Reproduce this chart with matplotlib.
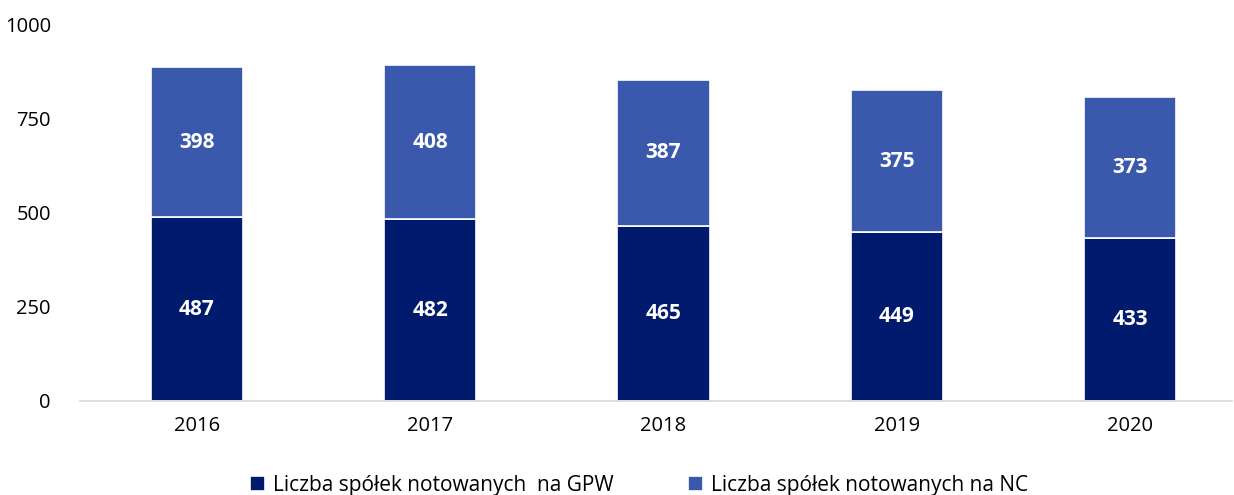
import matplotlib.pyplot as plt
import numpy as np

years = ['2016', '2017', '2018', '2019', '2020']
gpw = [487, 482, 465, 449, 433]
nc = [398, 408, 387, 375, 373]
labels = ['Liczba spółek notowanych  na GPW', 'Liczba spółek notowanych na NC']

c_gpw = '#001A6E'
c_nc = '#3A58AC'

plt.rcParams['font.family'] = ['Open Sans', 'DejaVu Sans']

fig = plt.figure(figsize=(12.34, 4.95), dpi=100)
ax = fig.add_axes([80/1234, 1-401/495, (1232-80)/1234, (401-24)/495])

x = np.arange(len(years))
w = 0.395
b1 = ax.bar(x, gpw, w, color=c_gpw, edgecolor='white', linewidth=1.2, label=labels[0])
b2 = ax.bar(x, nc, w, bottom=gpw, color=c_nc, edgecolor='white', linewidth=1.2, label=labels[1])

for i in range(len(years)):
    ax.text(x[i], gpw[i]/2, str(gpw[i]), ha='center', va='center', color='white',
            fontsize=15, fontweight='bold')
    ax.text(x[i], gpw[i] + nc[i]/2, str(nc[i]), ha='center', va='center', color='white',
            fontsize=15, fontweight='bold')

ax.set_xlim(-0.5, 4.5 - 15/233.5)
ax.set_ylim(0, 1000)
ax.set_yticks([0, 250, 500, 750, 1000])
ax.set_xticks(x)
ax.set_xticklabels(years)
ax.tick_params(axis='both', length=0, labelsize=14.5, colors='black')
ax.tick_params(axis='y', pad=21)
ax.tick_params(axis='x', pad=11)
for s in ['top', 'right', 'left']:
    ax.spines[s].set_visible(False)
ax.spines['bottom'].set_color('#D9D9D9')
ax.spines['bottom'].set_linewidth(1.2)

fig.legend(handles=[b1, b2], loc='lower center', bbox_to_anchor=(0.518, -0.04), ncol=2,
           frameon=False, fontsize=15, handlelength=0.7, handleheight=0.7,
           handletextpad=0.4, columnspacing=3.6)

fig.savefig('out.png', dpi=100)
